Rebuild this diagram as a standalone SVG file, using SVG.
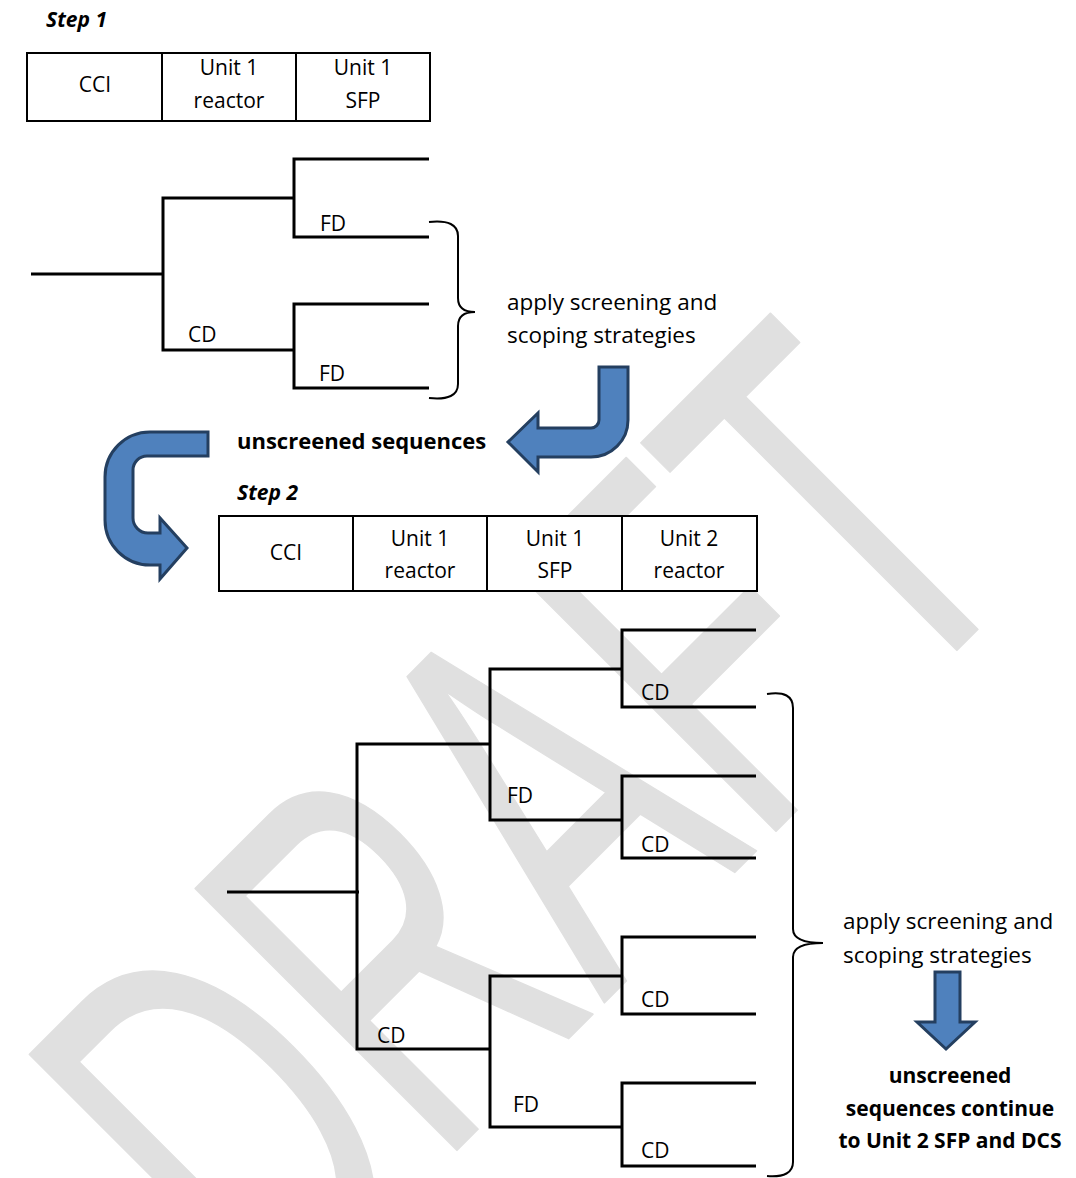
<svg xmlns="http://www.w3.org/2000/svg" width="1076" height="1178" viewBox="0 0 1076 1178">
<style>
.t{font-family:"Open Sans","Liberation Sans",sans-serif;font-size:21px;fill:#000}
.n{font-size:22.5px}
.b{font-weight:bold}
.bi{font-weight:bold;font-style:italic}
.c{text-anchor:middle}
.cell{fill:#fff;stroke:#000;stroke-width:2}
.ln{fill:none;stroke:#000;stroke-width:3;stroke-linejoin:miter}
.brace{fill:none;stroke:#000;stroke-width:2}
.arrow{fill:#4f81bd;stroke:#243f60;stroke-width:3;stroke-linejoin:miter}
.wm{font-family:"Liberation Sans",sans-serif;font-size:560px;fill:#e0e0e0;stroke:#e0e0e0;stroke-width:2;stroke-linejoin:round}
</style>

<g id="watermark">
<text class="wm" transform="translate(272,1335) rotate(-45) scale(0.58,0.96)">DRAFT</text>
</g>

<g id="step1-label"><text class="t bi" x="46" y="27">Step 1</text></g>

<g id="table1">
<g id="t1-cci"><rect class="cell" x="27" y="53" width="135" height="68"/><text class="t c" x="95" y="92">CCI</text></g>
<g id="t1-u1r"><rect class="cell" x="162" y="53" width="134" height="68"/><text class="t c" x="229" y="75">Unit 1</text><text class="t c" x="229" y="108">reactor</text></g>
<g id="t1-u1s"><rect class="cell" x="296" y="53" width="134" height="68"/><text class="t c" x="363" y="75">Unit 1</text><text class="t c" x="363" y="108">SFP</text></g>
</g>

<g id="tree1-labels">
<text class="t" x="320" y="231">FD</text>
<text class="t" x="188" y="342">CD</text>
<text class="t" x="319" y="381">FD</text>
</g>

<g id="note1">
<text class="t n" x="507" y="310">apply screening and</text>
<text class="t n" x="507" y="343">scoping strategies</text>
</g>

<g id="arrow1"><path class="arrow" d="M599,367 L628,367 L628,420 A37,37 0 0 1 591,457 L538,457 L538,472 L508,442 L538,413 L538,428 L591,428 A8,8 0 0 0 599,420 Z"/></g>

<g id="unscreened1"><text class="t b" x="237" y="449" style="font-size:22px">unscreened sequences</text></g>

<g id="arrow2"><path class="arrow" d="M208,432 L150,432 A45,45 0 0 0 105,477 L105,520 A45,45 0 0 0 150,565 L160,565 L160,579 L187,548 L160,518 L160,533 L148,533 A15,15 0 0 1 133,518 L133,470 A14,14 0 0 1 147,456 L208,456 Z"/></g>

<g id="step2-label"><text class="t bi" x="237" y="500">Step 2</text></g>

<g id="table2">
<g id="t2-cci"><rect class="cell" x="219" y="516" width="134" height="75"/><text class="t c" x="286" y="560">CCI</text></g>
<g id="t2-u1r"><rect class="cell" x="353" y="516" width="134" height="75"/><text class="t c" x="420" y="546">Unit 1</text><text class="t c" x="420" y="578">reactor</text></g>
<g id="t2-u1s"><rect class="cell" x="487" y="516" width="135" height="75"/><text class="t c" x="555" y="546">Unit 1</text><text class="t c" x="555" y="578">SFP</text></g>
<g id="t2-u2r"><rect class="cell" x="622" y="516" width="135" height="75"/><text class="t c" x="689" y="546">Unit 2</text><text class="t c" x="689" y="578">reactor</text></g>
</g>

<g id="tree2-labels">
<text class="t" x="641" y="700">CD</text>
<text class="t" x="507" y="803">FD</text>
<text class="t" x="641" y="852">CD</text>
<text class="t" x="641" y="1007">CD</text>
<text class="t" x="377" y="1043">CD</text>
<text class="t" x="513" y="1112">FD</text>
<text class="t" x="641" y="1158">CD</text>
</g>

<g id="note2">
<text class="t n" x="843" y="929">apply screening and</text>
<text class="t n" x="843" y="963">scoping strategies</text>
</g>

<g id="arrow3"><path class="arrow" d="M935,972 L960,972 L960,1022 L975,1022 L946,1049 L917,1022 L935,1022 Z"/></g>

<g id="unscreened2">
<text class="t b c" x="950" y="1083">unscreened</text>
<text class="t b c" x="950" y="1116">sequences continue</text>
<text class="t b c" x="950" y="1148">to Unit 2 SFP and DCS</text>
</g>

<g id="connectors">
<path class="ln" d="M31,274 H163"/>
<path class="ln" d="M294,198 H163 V350 H294"/>
<path class="ln" d="M429,159 H294 V237 H429"/>
<path class="ln" d="M429,304 H294 V388 H429"/>
<path class="brace" d="M429,222 Q458,219 458,236 L458,298 Q458,312 475,312 Q458,312 458,326 L458,384 Q458,401 429,398"/>

<path class="ln" d="M227,892 H359"/>
<path class="ln" d="M490,744 H357 V1049 H490"/>
<path class="ln" d="M622,669 H490 V820 H622"/>
<path class="ln" d="M756,630 H622 V707 H756"/>
<path class="ln" d="M756,776 H622 V858 H756"/>
<path class="ln" d="M622,976 H490 V1127 H622"/>
<path class="ln" d="M756,937 H622 V1014 H756"/>
<path class="ln" d="M756,1083 H622 V1166 H756"/>
<path class="brace" d="M767,694 Q793,690 793,708 L793,929 Q793,943 823,943 Q793,943 793,957 L793,1162 Q793,1178 767,1176"/>
</g>
</svg>
